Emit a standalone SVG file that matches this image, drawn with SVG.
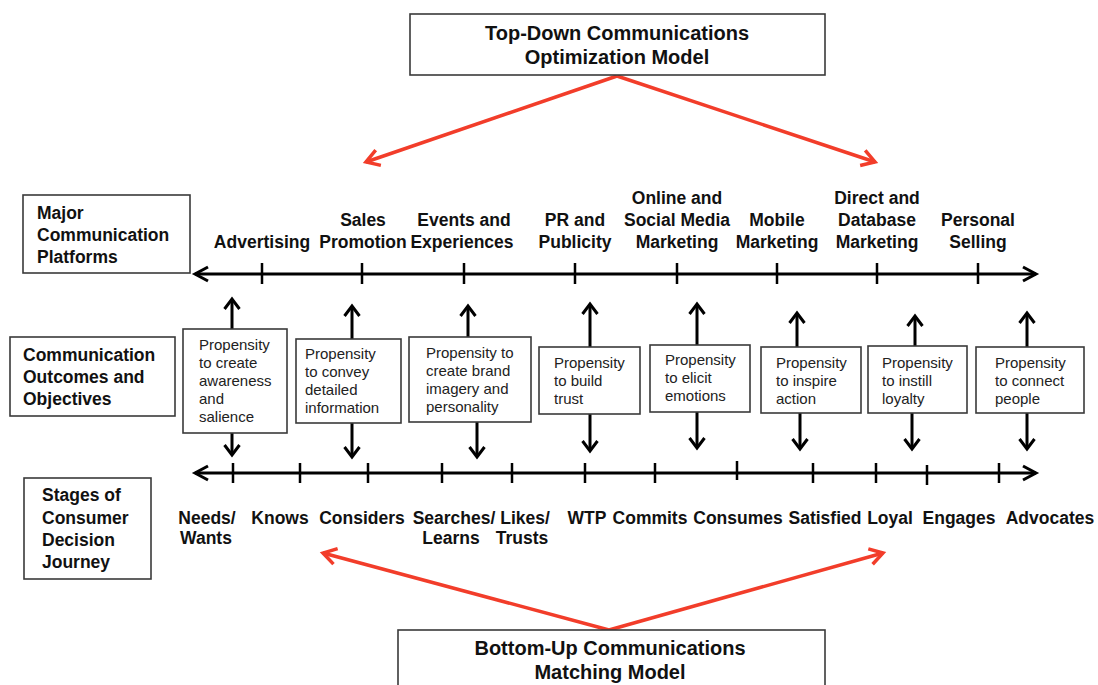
<svg xmlns="http://www.w3.org/2000/svg" width="1098" height="685" viewBox="0 0 1098 685">
<style>
.bx{fill:#fff;stroke:#3a3a3a;stroke-width:1.6}
.lb{font-family:"Liberation Sans",Arial,sans-serif;font-weight:bold;font-size:17.5px;fill:#111}
.tt{font-family:"Liberation Sans",Arial,sans-serif;font-weight:bold;font-size:20px;fill:#111;text-anchor:middle}
.pt{font-family:"Liberation Sans",Arial,sans-serif;font-size:15px;fill:#222}
.c{text-anchor:middle}
.ax{stroke:#000;stroke-width:3;fill:none}
.tk{stroke:#000;stroke-width:2.5}
.va{stroke:#000;stroke-width:3;fill:none;marker-end:url(#ah)}
.ra{stroke:#f23d2a;stroke-width:3.5;fill:none;marker-end:url(#rh)}
</style>
<defs>
<marker id="ah" viewBox="-14 -10 18 20" refX="0" refY="0" markerWidth="18" markerHeight="20" markerUnits="userSpaceOnUse" orient="auto" overflow="visible">
<path d="M-10,-7.5 L0,0 L-10,7.5" fill="none" stroke="#000" stroke-width="3"/>
</marker>
<marker id="axh" viewBox="-16 -10 20 20" refX="0" refY="0" markerWidth="20" markerHeight="20" markerUnits="userSpaceOnUse" orient="auto-start-reverse" overflow="visible">
<path d="M-13,-7 L0,0 L-13,7" fill="none" stroke="#000" stroke-width="3"/>
</marker>
<marker id="rh" viewBox="-16 -10 20 20" refX="0" refY="0" markerWidth="20" markerHeight="20" markerUnits="userSpaceOnUse" orient="auto" overflow="visible">
<path d="M-13,-8 L0,0 L-13,8" fill="none" stroke="#f23d2a" stroke-width="3.5"/>
</marker>
</defs>
<rect width="1098" height="685" fill="#fff"/>

<g id="connectors">
<path class="ra" d="M617,76 L366,162"/>
<path class="ra" d="M617,76 L875,162"/>
<path class="ra" d="M609,630 L323,553"/>
<path class="ra" d="M609,630 L883,553"/>
<path class="ax" d="M195,274 L1036,274" marker-start="url(#axh)" marker-end="url(#axh)"/>
<g class="tk">
<path d="M262,263V284M362,263V284M464,263V284M575,263V284M677,263V284M777,263V284M877,263V284M978,263V284"/>
</g>
<path class="ax" d="M195,473 L1036,473" marker-start="url(#axh)" marker-end="url(#axh)"/>
<g class="tk">
<path d="M233,463V483M300,463V483M368,463V483M442,463V483M512,463V483M585,463V483M655,463V483M737,461V480M813,463V483M876,463V483M927,465V485M999,463V483"/>
</g>
<path class="va" d="M232,329V299"/><path class="va" d="M232,433V455"/>
<path class="va" d="M352,339V306"/><path class="va" d="M352,423V457"/>
<path class="va" d="M468,337V306"/><path class="va" d="M477,422V457"/>
<path class="va" d="M590,347V304"/><path class="va" d="M590,414V451"/>
<path class="va" d="M697,345V304"/><path class="va" d="M697,412V448"/>
<path class="va" d="M797,347V313"/><path class="va" d="M800,413V449"/>
<path class="va" d="M915,346V316"/><path class="va" d="M912,413V449"/>
<path class="va" d="M1027,347V313"/><path class="va" d="M1027,413V449"/>
</g>

<g id="top-model">
<rect class="bx" x="410" y="14" width="415" height="61"/>
<text class="tt" x="617" y="40">Top-Down Communications</text>
<text class="tt" x="617" y="64">Optimization Model</text>
</g>
<g id="bottom-model">
<rect class="bx" x="398" y="630" width="427" height="70"/>
<text class="tt" x="610" y="655">Bottom-Up Communications</text>
<text class="tt" x="610" y="679">Matching Model</text>
</g>

<g id="label-platforms">
<rect class="bx" x="23" y="195" width="167" height="78"/>
<text class="lb" x="37" y="219">Major</text>
<text class="lb" x="37" y="241">Communication</text>
<text class="lb" x="37" y="263">Platforms</text>
</g>
<g id="label-outcomes">
<rect class="bx" x="10" y="337" width="165" height="79"/>
<text class="lb" x="23" y="361">Communication</text>
<text class="lb" x="23" y="383">Outcomes and</text>
<text class="lb" x="23" y="405">Objectives</text>
</g>
<g id="label-stages">
<rect class="bx" x="24" y="478" width="127" height="101"/>
<text class="lb" x="42" y="501">Stages of</text>
<text class="lb" x="42" y="524">Consumer</text>
<text class="lb" x="42" y="546">Decision</text>
<text class="lb" x="42" y="568">Journey</text>
</g>

<g id="platforms" class="lb c">
<text class="lb c" x="262" y="248">Advertising</text>
<text class="lb c" x="363" y="226">Sales</text><text class="lb c" x="363" y="248">Promotion</text>
<text class="lb c" x="464" y="226">Events and</text><text class="lb c" x="462" y="248">Experiences</text>
<text class="lb c" x="575" y="226">PR and</text><text class="lb c" x="575" y="248">Publicity</text>
<text class="lb c" x="677" y="204">Online and</text><text class="lb c" x="677" y="226">Social Media</text><text class="lb c" x="677" y="248">Marketing</text>
<text class="lb c" x="777" y="226">Mobile</text><text class="lb c" x="777" y="248">Marketing</text>
<text class="lb c" x="877" y="204">Direct and</text><text class="lb c" x="877" y="226">Database</text><text class="lb c" x="877" y="248">Marketing</text>
<text class="lb c" x="978" y="226">Personal</text><text class="lb c" x="978" y="248">Selling</text>
</g>

<g id="outcome-1"><rect class="bx" x="183" y="329" width="104" height="104"/>
<text class="pt" x="199" y="350">Propensity</text><text class="pt" x="199" y="368">to create</text><text class="pt" x="199" y="386">awareness</text><text class="pt" x="199" y="404">and</text><text class="pt" x="199" y="422">salience</text></g>
<g id="outcome-2"><rect class="bx" x="296" y="339" width="105" height="84"/>
<text class="pt" x="305" y="359">Propensity</text><text class="pt" x="305" y="377">to convey</text><text class="pt" x="305" y="395">detailed</text><text class="pt" x="305" y="413">information</text></g>
<g id="outcome-3"><rect class="bx" x="409" y="337" width="122" height="85"/>
<text class="pt" x="426" y="358">Propensity to</text><text class="pt" x="426" y="376">create brand</text><text class="pt" x="426" y="394">imagery and</text><text class="pt" x="426" y="412">personality</text></g>
<g id="outcome-4"><rect class="bx" x="539" y="347" width="101" height="67"/>
<text class="pt" x="554" y="368">Propensity</text><text class="pt" x="554" y="386">to build</text><text class="pt" x="554" y="404">trust</text></g>
<g id="outcome-5"><rect class="bx" x="650" y="345" width="100" height="67"/>
<text class="pt" x="665" y="365">Propensity</text><text class="pt" x="665" y="383">to elicit</text><text class="pt" x="665" y="401">emotions</text></g>
<g id="outcome-6"><rect class="bx" x="761" y="347" width="100" height="66"/>
<text class="pt" x="776" y="368">Propensity</text><text class="pt" x="776" y="386">to inspire</text><text class="pt" x="776" y="404">action</text></g>
<g id="outcome-7"><rect class="bx" x="868" y="346" width="99" height="67"/>
<text class="pt" x="882" y="368">Propensity</text><text class="pt" x="882" y="386">to instill</text><text class="pt" x="882" y="404">loyalty</text></g>
<g id="outcome-8"><rect class="bx" x="976" y="347" width="108" height="66"/>
<text class="pt" x="995" y="368">Propensity</text><text class="pt" x="995" y="386">to connect</text><text class="pt" x="995" y="404">people</text></g>

<g id="stages">
<text class="lb c" x="207" y="524">Needs/</text><text class="lb c" x="206" y="544">Wants</text>
<text class="lb c" x="280" y="524">Knows</text>
<text class="lb c" x="362" y="524">Considers</text>
<text class="lb c" x="454" y="524">Searches/</text><text class="lb c" x="451" y="544">Learns</text>
<text class="lb c" x="525" y="524">Likes/</text><text class="lb c" x="522" y="544">Trusts</text>
<text class="lb c" x="587" y="524">WTP</text>
<text class="lb c" x="650" y="524">Commits</text>
<text class="lb c" x="738" y="524">Consumes</text>
<text class="lb c" x="825" y="524">Satisfied</text>
<text class="lb c" x="890" y="524">Loyal</text>
<text class="lb c" x="959" y="524">Engages</text>
<text class="lb c" x="1050" y="524">Advocates</text>
</g>
</svg>
